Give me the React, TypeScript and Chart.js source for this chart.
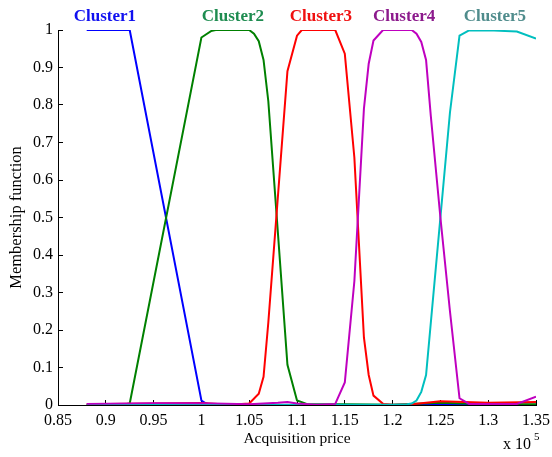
import React, { useEffect, useRef } from "react";
import { Chart, registerables } from "chart.js";

Chart.register(...registerables);

// Cluster 1 (blue)
const c1X = [0.88, 0.925, 1.0, 1.005, 1.01, 1.05, 1.1, 1.15, 1.2, 1.25, 1.3, 1.35];
const c1Y = [1, 1, 0.012, 0.004, 0.001, 0, 0, 0, 0, 0.001, 0.001, 0.001];
// Cluster 2 (green)
const c2X = [0.88, 0.9, 0.92, 0.925, 1.0, 1.01, 1.015, 1.05, 1.055, 1.06, 1.065, 1.07, 1.08, 1.09, 1.1, 1.11, 1.15, 1.2, 1.25, 1.3, 1.35];
const c2Y = [0, 0.001, 0.002, 0.004, 0.98, 0.997, 1, 1, 0.99, 0.97, 0.92, 0.81, 0.46, 0.107, 0.012, 0.003, 0.002, 0.001, 0.006, 0.002, 0.002];
// Cluster 3 (red)
const c3X = [0.88, 0.95, 1.0, 1.03, 1.05, 1.06, 1.065, 1.07, 1.09, 1.1, 1.105, 1.14, 1.15, 1.16, 1.165, 1.17, 1.175, 1.18, 1.19, 1.2, 1.22, 1.25, 1.3, 1.35];
const c3Y = [0.002, 0.004, 0.005, 0.001, 0.004, 0.03, 0.075, 0.22, 0.89, 0.985, 1, 1, 0.937, 0.66, 0.42, 0.18, 0.08, 0.025, 0.003, 0.001, 0.002, 0.01, 0.006, 0.008];
// Cluster 4 (magenta)
const c4X = [0.88, 0.95, 1.0, 1.05, 1.08, 1.09, 1.1, 1.12, 1.14, 1.15, 1.16, 1.17, 1.175, 1.18, 1.19, 1.22, 1.225, 1.23, 1.235, 1.24, 1.25, 1.26, 1.27, 1.28, 1.33, 1.35];
const c4Y = [0.003, 0.005, 0.005, 0.002, 0.006, 0.008, 0.004, 0.001, 0.003, 0.06, 0.33, 0.79, 0.91, 0.972, 1, 1, 0.99, 0.968, 0.92, 0.77, 0.5, 0.25, 0.018, 0.003, 0.003, 0.022];
// Cluster 5 (cyan)
const c5X = [0.88, 1.0, 1.1, 1.2, 1.215, 1.22, 1.225, 1.23, 1.235, 1.24, 1.25, 1.26, 1.27, 1.28, 1.3, 1.33, 1.35];
const c5Y = [0, 0, 0.001, 0.001, 0.002, 0.004, 0.012, 0.035, 0.08, 0.22, 0.5, 0.78, 0.985, 0.999, 0.999, 0.996, 0.977];

const seriesNames = ["Cluster1", "Cluster2", "Cluster3", "Cluster4", "Cluster5"];
const seriesColors = ["#0000ff", "#008000", "#ff0000", "#bf00bf", "#00bfbf"];
const labelColors = ["#1010f0", "#1e8c50", "#f01010", "#8c1a8c", "#4f8c8c"];
const labelPosX = [0.899, 1.033, 1.125, 1.212, 1.307];

const xMin = 0.85;
const xMax = 1.35;
const xStep = 0.05;
const yMin = 0;
const yMax = 1;
const yStep = 0.1;

const SERIF = "'Liberation Serif', 'Times New Roman', serif";

const allX = [c1X, c2X, c3X, c4X, c5X];
const allY = [c1Y, c2Y, c3Y, c4Y, c5Y];

const fmt = (v: number) => String(Number(Number(v).toFixed(3)));

const overlayPlugin = {
  id: "overlay",
  afterDraw(chart: any) {
    const ctx = chart.ctx;
    const xs = chart.scales.x;
    ctx.save();
    ctx.font = `bold 17px ${SERIF}`;
    ctx.textAlign = "center";
    ctx.textBaseline = "alphabetic";
    seriesNames.forEach((n, i) => {
      ctx.fillStyle = labelColors[i];
      ctx.fillText(n, xs.getPixelForValue(labelPosX[i]), 20.5);
    });
    // x 10^5 exponent
    ctx.fillStyle = "#000";
    ctx.textAlign = "left";
    ctx.font = `16px ${SERIF}`;
    ctx.fillText("x 10", 503, 449);
    ctx.font = `11px ${SERIF}`;
    ctx.fillText("5", 534, 440);
    ctx.restore();
  },
};

export default function App() {
  const ref = useRef<HTMLCanvasElement | null>(null);
  useEffect(() => {
    if (!ref.current) return;
    const datasets = seriesNames.map((name, i) => ({
      label: name,
      data: allX[i].map((x, j) => ({ x, y: allY[i][j] })),
      borderColor: seriesColors[i],
      backgroundColor: seriesColors[i],
      borderWidth: 2,
      pointRadius: 0,
      tension: 0,
      fill: false,
      order: [4, 3, 2, 0, 1][i],
    }));
    const chart = new Chart(ref.current, {
      type: "line",
      data: { datasets },
      plugins: [overlayPlugin],
      options: {
        responsive: false,
        animation: false,
        devicePixelRatio: 1,
        layout: { padding: { left: 0, right: 16, top: 30, bottom: 0 } },
        plugins: { legend: { display: false }, tooltip: { enabled: false } },
        scales: {
          x: {
            type: "linear",
            min: xMin,
            max: xMax,
            afterFit: (s: any) => {
              s.height = 52;
              s.paddingLeft = 0;
              s.paddingRight = 0;
            },
            grid: { drawOnChartArea: false, tickLength: -5, color: "#000", lineWidth: 1 },
            border: { display: true, color: "#000", width: 1 },
            ticks: {
              stepSize: xStep,
              padding: 11,
              color: "#000",
              font: { family: SERIF, size: 16 },
              maxRotation: 0,
              autoSkip: false,
              callback: (v: any) => fmt(v),
            },
            title: {
              display: true,
              text: "Acquisition price",
              color: "#000",
              font: { family: SERIF, size: 15.5 },
              padding: { top: 0, bottom: 9 },
            },
          },
          y: {
            type: "linear",
            min: yMin,
            max: yMax,
            afterFit: (s: any) => {
              s.width = 58;
              s.paddingTop = 0;
              s.paddingBottom = 0;
            },
            grid: { drawOnChartArea: false, tickLength: -5, color: "#000", lineWidth: 1 },
            border: { display: true, color: "#000", width: 1 },
            ticks: {
              stepSize: yStep,
              padding: 10,
              color: "#000",
              font: { family: SERIF, size: 16 },
              autoSkip: false,
              callback: (v: any) => fmt(v),
            },
            title: {
              display: true,
              text: "Membership function",
              color: "#000",
              font: { family: SERIF, size: 16.5 },
              padding: { top: 7, bottom: 0 },
            },
          },
        },
      },
    } as any);
    return () => chart.destroy();
  }, []);
  return (
    <div style={{ position: "fixed", left: 0, top: 0, width: 552, height: 457, background: "#fff" }}>
      <canvas ref={ref} width={552} height={457} />
    </div>
  );
}
